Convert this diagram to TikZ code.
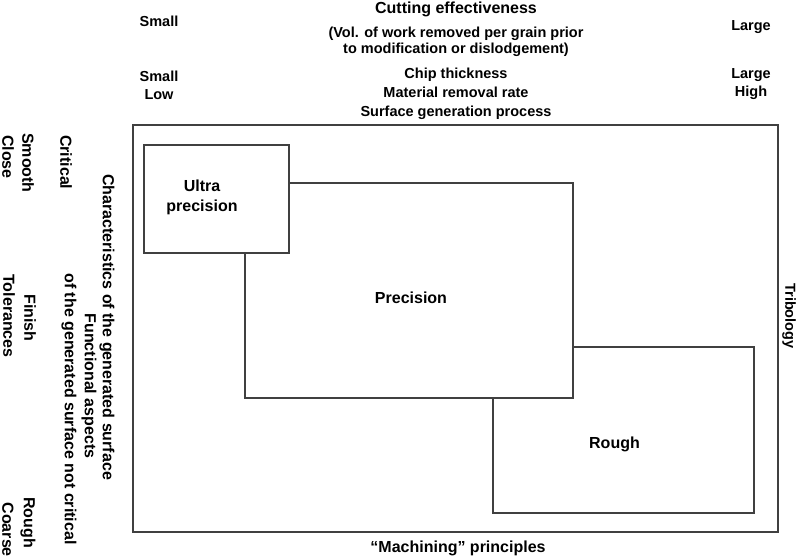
\documentclass[tikz,border=0pt]{standalone}
\usepackage{fontspec}
\setmainfont{Liberation Sans}
\begin{document}
\begin{tikzpicture}[x=1pt,y=-1pt,
  box/.style={draw=black!75, line width=1.2pt, fill=white, inner sep=0pt},
  lbl/.style={font=\bfseries\fontsize{16}{20}\selectfont, inner sep=0pt, align=center},
  sml/.style={font=\bfseries\fontsize{14.5}{17.5}\selectfont, inner sep=0pt, align=center},
  rot/.style={lbl, rotate=-90}]
\useasboundingbox (0,0) rectangle (800,558);
% boxes (drawn back to front)
\node[box, minimum width=645pt, minimum height=407pt] (outer) at (455.5,328.5) {};
\node[box, minimum width=261pt, minimum height=166pt] (roughbox) at (623.5,430) {};
\node[box, minimum width=328pt, minimum height=215pt] (precbox) at (409,290.5) {};
\node[box, minimum width=145pt, minimum height=108pt] (ultrabox) at (216.5,199) {};
% box labels
\node[lbl] (ultra) at (202,197) {Ultra\\precision};
\node[lbl] (prec) at (411,298) {Precision};
\node[lbl] (rough) at (614.5,444) {Rough};
% top texts
\node[lbl] (cut) at (456,9) {Cutting effectiveness};
\node[sml] (vol1) at (456,34) {(Vol. of work removed per grain prior};
\node[sml] (vol2) at (456,50) {to modification or dislodgement)};
\node[sml] (small1) at (159,21) {Small};
\node[sml] (large1) at (751,27) {Large};
\node[sml] (small2) at (159,76) {Small};
\node[sml] (low) at (159,95) {Low};
\node[sml] (chip) at (456,75) {Chip thickness};
\node[sml] (mrr) at (456,92) {Material removal rate};
\node[sml] (large2) at (751,75) {Large};
\node[sml] (high) at (751,93) {High};
\node[sml] (surf) at (456,113) {Surface generation process};
% bottom and right
\node[lbl] (mach) at (458,548) {“Machining” principles};
\node[sml, rotate=-90] (trib) at (789,316) {Tribology};
% left rotated texts
\node[rot, anchor=west] (smooth) at (28,133) {Smooth};
\node[rot, anchor=west] (close) at (8,135) {Close};
\node[rot, anchor=west] (critical) at (66,135) {Critical};
\node[rot] (finish) at (30,318) {Finish};
\node[rot] (tol) at (9,316) {Tolerances};
\node[rot, anchor=east] (roughl) at (28,548) {Rough};
\node[rot, anchor=east] (coarse) at (8,557) {Coarse};
\node[rot] (charac) at (107,327) {Characteristics of the generated surface};
\node[rot] (func) at (89,386) {Functional aspects};
\node[rot] (notcrit) at (69,409) {of the generated surface not critical};
\end{tikzpicture}
\end{document}
